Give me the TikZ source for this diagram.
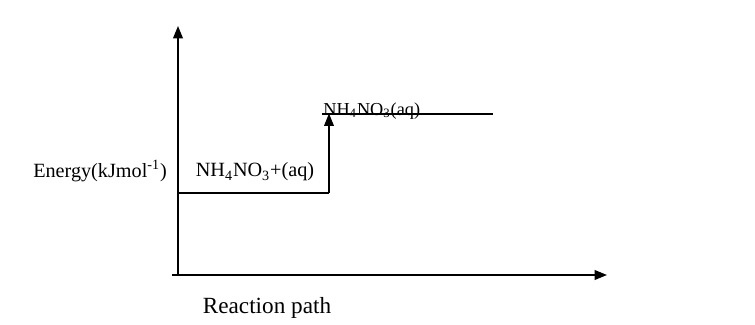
\documentclass[tikz,border=0pt]{standalone}
\usepackage{fontspec}
\setmainfont{Liberation Serif}
\usepackage{tikz}
\usetikzlibrary{arrows.meta, positioning, calc}
\tikzset{
  lbl/.style={inner sep=0pt, font=\fontsize{11.5}{13}\selectfont},
  axis/.style={-{Triangle[length=7pt,width=5.5pt]}, line width=0.9pt},
  lvl/.style={line width=0.7pt}
}
\begin{document}
\begin{tikzpicture}[x=0.02cm,y=-0.02cm]
  \useasboundingbox (0,0) rectangle (755,325);
  \coordinate (O) at (178,275);
  \coordinate (Ytop) at (178,26);
  \coordinate (Xl) at (172,275);
  \coordinate (Xr) at (607,275);
  \draw[axis](O)--(Ytop); \draw[axis](Xl)--(Xr);
  % energy levels
  \coordinate (R1) at (178,193); \coordinate (R2) at (329,193);
  \coordinate (P1) at (322,114); \coordinate (P2) at (493,114);
  \draw[lvl](R1)--(R2); \draw[lvl](P1)--(P2);
  \draw[axis,line width=0.7pt](R2)--(329,113.5);
  \node[lbl,anchor=base west,font=\fontsize{10.4}{12}\selectfont] (prod) at (323,115) {NH\textsubscript{4}NO\textsubscript{3}(aq)};
  \node[lbl] (reac) at (255,172) {NH\textsubscript{4}NO\textsubscript{3}+(aq)};
  \node[lbl] (ylab) at (100,171) {Energy(kJmol\textsuperscript{-1})};
  \node[lbl,font=\fontsize{13.2}{15}\selectfont] (xlab) at (267,308) {Reaction path};
\end{tikzpicture}
\end{document}
